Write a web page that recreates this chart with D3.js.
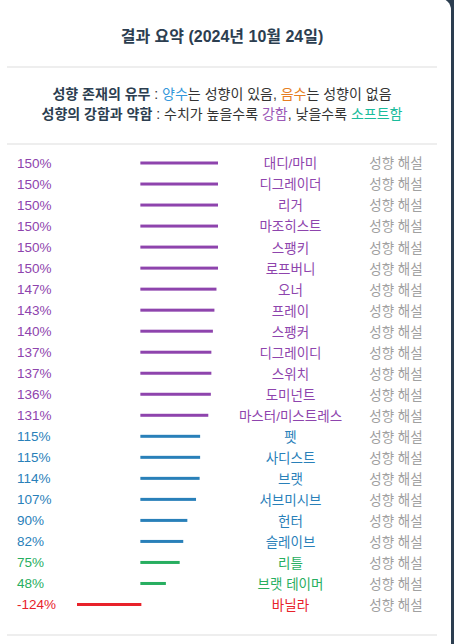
<!DOCTYPE html>
<html>
<head>
<meta charset="utf-8">
<script src="https://cdn.jsdelivr.net/npm/d3@7"></script>
<style>
  body { margin: 0; background: #2c3e50; overflow: hidden; }
  svg { display: block; font-family: "Liberation Sans", Arial, "Noto Sans CJK KR", sans-serif; }
</style>
</head>
<body>
<svg id="chart" width="454" height="644"></svg>
<script>
// 데이터
let labels = ["대디/마미", "디그레이더", "리거", "마조히스트", "스팽키", "로프버니", "오너", "프레이",
  "스팽커", "디그레이디", "스위치", "도미넌트", "마스터/미스트레스", "펫", "사디스트", "브랫",
  "서브미시브", "헌터", "슬레이브", "리틀", "브랫 테이머", "바닐라"];
let values = [150, 150, 150, 150, 150, 150, 147, 143, 140, 137, 137, 136, 131, 115, 115, 114, 107, 90, 82, 75, 48, -124];
let tierLimits = [130, 80, 0];
let tierColors = ["#8e44ad", "#2980b9", "#27ae60", "#e8222a"];

let svg = d3.select("#chart");
let width = 454, height = 644;

//카드 배경 (오른쪽 위만 둥글게)
let cardR = 12, cardRight = 451, cardTop = -2;
svg.append("path")
  .attr("d", `M-10,${cardTop} H${cardRight - cardR} A${cardR},${cardR} 0 0 1 ${cardRight},${cardTop + cardR} V${height + 10} H-10 Z`)
  .attr("fill", "#fff");

//제목
svg.append("text")
  .attr("x", 222).attr("y", 42)
  .attr("text-anchor", "middle")
  .attr("font-size", 16).attr("font-weight", "bold")
  .attr("fill", "#2c3e50")
  .text("결과 요약 (2024년 10월 24일)");

//구분선
[67, 144, 635].forEach((yPos) => {
  svg.append("line")
    .attr("x1", 7).attr("x2", 437).attr("y1", yPos).attr("y2", yPos)
    .attr("stroke", "#eeeeee").attr("stroke-width", 2);
});

//범례 두 줄
let legendLines = [
  [["성향 존재의 유무", "#2c3e50", true], [" : ", "#333", false], ["양수", "#3498db", false],
   ["는 성향이 있음, ", "#333", false], ["음수", "#e67e22", false], ["는 성향이 없음", "#333", false]],
  [["성향의 강함과 약함", "#2c3e50", true], [" : 수치가 높을수록 ", "#333", false], ["강함", "#9b59b6", false],
   [", 낮을수록 ", "#333", false], ["소프트함", "#1abc9c", false]]
];
legendLines.forEach((parts, i) => {
  let t = svg.append("text")
    .attr("x", 222).attr("y", 99 + i * 20)
    .attr("text-anchor", "middle")
    .attr("font-size", 14)
    .attr("xml:space", "preserve");
  parts.forEach((p) => {
    t.append("tspan")
      .attr("fill", p[1])
      .attr("font-weight", p[2] ? "bold" : "normal")
      .text(p[0]);
  });
});

//스케일
let y = d3.scalePoint().domain(labels).range([163, 604.5]);
let x = d3.scaleLinear().domain([d3.min(values), d3.max(values)]).range([78, 218]);
let color = d3.scaleThreshold().domain(tierLimits.slice().reverse()).range(tierColors.slice().reverse());

let rows = svg.append("g").selectAll("g")
  .data(labels)
  .join("g")
  .attr("transform", (d) => `translate(0,${y(d)})`);

rows.append("text")
  .attr("x", 17).attr("dy", "0.35em")
  .attr("font-size", 13.5)
  .attr("fill", (d, i) => color(values[i]))
  .text((d, i) => `${values[i]}%`);

rows.append("rect")
  .attr("x", (d, i) => Math.min(x(0), x(values[i])) - 1)
  .attr("y", -1.5)
  .attr("width", (d, i) => Math.abs(x(values[i]) - x(0)) + 1)
  .attr("height", 3)
  .attr("fill", (d, i) => color(values[i]));

rows.append("text")
  .attr("x", 290.5).attr("dy", "0.4em")
  .attr("text-anchor", "middle")
  .attr("font-size", 13.5)
  .attr("fill", (d, i) => color(values[i]))
  .text((d) => d);

rows.append("text")
  .attr("x", 396).attr("dy", "0.4em")
  .attr("text-anchor", "middle")
  .attr("font-size", 13.5)
  .attr("fill", "#a0a0a0")
  .text("성향 해설");
</script>
</body>
</html>
